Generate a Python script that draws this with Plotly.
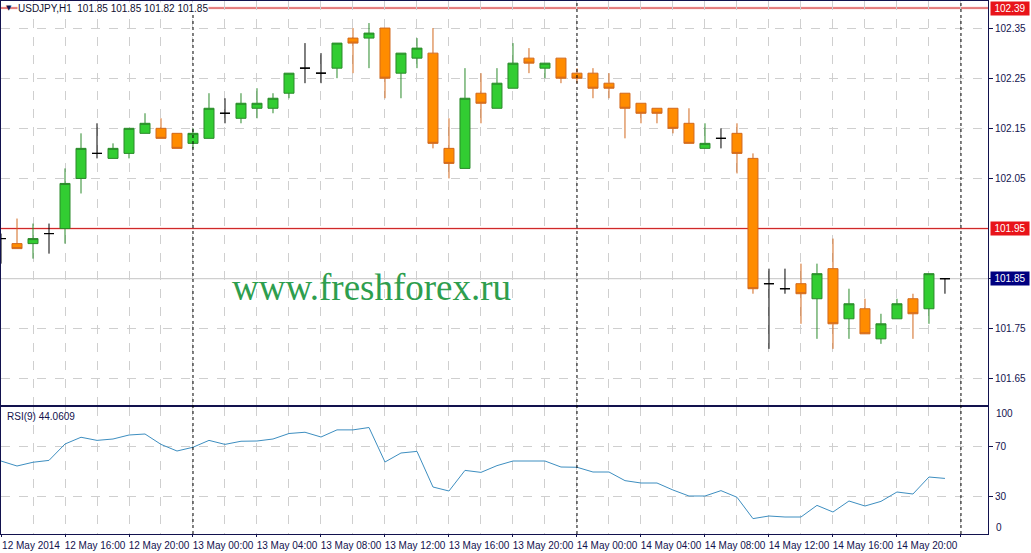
import plotly.graph_objects as go
import pandas as pd
import numpy as np

# ---------------- data ----------------
symbol = "USDJPY,H1"
start_time = "2014-05-12 12:00"

opens = [101.93, 101.92, 101.92, 101.94, 101.95, 102.05, 102.10, 102.09, 102.10, 102.14,
         102.15, 102.14, 102.12, 102.13, 102.18, 102.17, 102.19, 102.19, 102.22, 102.27,
         102.26, 102.27, 102.33, 102.33, 102.35, 102.26, 102.29, 102.30, 102.11, 102.07,
         102.22, 102.19, 102.23, 102.29, 102.27, 102.29, 102.26, 102.26, 102.24, 102.22,
         102.20, 102.19, 102.19, 102.16, 102.11, 102.13, 102.14, 102.09, 101.84, 101.83,
         101.84, 101.81, 101.87, 101.77, 101.79, 101.73, 101.77, 101.81, 101.79, 101.85]
highs = [101.94, 101.97, 101.96, 101.96, 102.07, 102.14, 102.16, 102.12, 102.15, 102.18,
         102.17, 102.14, 102.15, 102.22, 102.21, 102.22, 102.23, 102.22, 102.26, 102.32,
         102.30, 102.32, 102.35, 102.36, 102.35, 102.30, 102.33, 102.35, 102.17, 102.27,
         102.26, 102.27, 102.32, 102.31, 102.28, 102.29, 102.27, 102.27, 102.26, 102.22,
         102.20, 102.19, 102.19, 102.19, 102.16, 102.15, 102.16, 102.10, 101.87, 101.87,
         101.88, 101.88, 101.93, 101.83, 101.81, 101.78, 101.81, 101.82, 101.86, 101.85]
lows = [101.88, 101.91, 101.89, 101.90, 101.92, 102.02, 102.09, 102.09, 102.09, 102.14,
        102.13, 102.11, 102.11, 102.13, 102.16, 102.16, 102.17, 102.18, 102.21, 102.24,
        102.24, 102.25, 102.26, 102.27, 102.21, 102.21, 102.27, 102.11, 102.05, 102.07,
        102.16, 102.19, 102.23, 102.26, 102.25, 102.24, 102.24, 102.21, 102.21, 102.13,
        102.16, 102.16, 102.14, 102.12, 102.11, 102.11, 102.06, 101.82, 101.71, 101.82,
        101.76, 101.73, 101.71, 101.73, 101.74, 101.72, 101.77, 101.73, 101.76, 101.82]
closes = [101.93, 101.91, 101.93, 101.94, 102.04, 102.11, 102.10, 102.11, 102.15, 102.16,
          102.13, 102.11, 102.14, 102.19, 102.18, 102.20, 102.20, 102.21, 102.26, 102.27,
          102.26, 102.32, 102.32, 102.34, 102.25, 102.30, 102.31, 102.12, 102.08, 102.21,
          102.20, 102.24, 102.28, 102.28, 102.28, 102.25, 102.25, 102.23, 102.23, 102.19,
          102.18, 102.18, 102.15, 102.12, 102.12, 102.13, 102.10, 101.83, 101.84, 101.83,
          101.82, 101.86, 101.76, 101.80, 101.74, 101.76, 101.80, 101.78, 101.86, 101.85]

rsi_period = 9
rsi = [58, 54, 57, 58.5, 71.6, 77, 74.5, 75.6, 78.8, 79.6,
       71.3, 66, 69, 74.5, 71.3, 73.8, 74, 75.6, 80, 81,
       77.2, 82.9, 82.9, 84.8, 57.2, 64.4, 65.7, 37.2, 34, 50.5,
       48.9, 54.3, 58, 58, 58, 53.2, 53, 49.2, 49.2, 42.3,
       40.4, 40.4, 34.8, 30, 30, 34.3, 29, 11.9, 14, 13.2,
       13.2, 22.5, 17.2, 26, 22, 25.7, 33.2, 31.6, 45.2, 44.0609]

level_lines = [102.39, 101.95]
price_ticks = [101.65, 101.75, 101.85, 101.95, 102.05, 102.15, 102.25, 102.35]
rsi_grid_ticks = [30, 70]
rsi_edge_labels = {"100": 95.6, "0": 5.2}
watermark = "www.freshforex.ru"

# ---------------- styling ----------------
FONT = "Liberation Sans, Arial, sans-serif"
NAVY = "#12124e"
GRID = "#cfcfcf"
BULL_FILL, BULL_LINE = "#32cd32", "#2a8a2a"
BEAR_FILL, BEAR_LINE = "#ff8c00", "#d2691e"
RED = "#cc2020"

n = len(opens)
idx = np.arange(n)
times = pd.date_range(start_time, periods=n, freq="h")
hours = np.array([t.hour for t in times])

o = np.array(opens); h = np.array(highs); l = np.array(lows); c = np.array(closes)
bull = c > o
bear = c < o
doji = c == o

fig = go.Figure()


def candles(mask, line_col, fill_col):
    return go.Candlestick(
        x=idx[mask], open=o[mask], high=h[mask], low=l[mask], close=c[mask],
        increasing=dict(line=dict(color=line_col, width=1), fillcolor=fill_col),
        decreasing=dict(line=dict(color=line_col, width=1), fillcolor=fill_col),
        whiskerwidth=0, showlegend=False, hoverinfo="skip",
        xaxis="x", yaxis="y")


fig.add_trace(candles(bull, BULL_LINE, BULL_FILL))
fig.add_trace(candles(bear, BEAR_LINE, BEAR_FILL))
fig.add_trace(candles(doji, "#000000", "#000000"))

fig.add_trace(go.Scatter(x=idx, y=rsi, mode="lines",
                         line=dict(color="#3d8ec0", width=1),
                         showlegend=False, hoverinfo="skip",
                         xaxis="x2", yaxis="y2"))

# x ticks: labels every 4 hours, grid every 2 hours
ext = np.arange(n + 2)
ext_hours = (hours[0] + ext) % 24
major = [int(k) for k in ext if ext_hours[k] % 4 == 0]
minor = [int(k) for k in ext if ext_hours[k] % 4 == 2]
labels = []
for k in major:
    if k < n:
        t = times[k]
        labels.append(t.strftime("%d %b %Y") if k == 0 else t.strftime("%d %b %H:%M"))
    else:
        labels.append("")
separators = [int(k) for k in ext if ext_hours[k] == 0]

# price gridlines (the level lines replace the grid at their own price)
grid_prices = [v for v in price_ticks if all(abs(v - lv) > 1e-9 for lv in level_lines)]

xrange_ = [-0.0001, 61.69]
grid_common = dict(showgrid=True, gridcolor=GRID, griddash="dash", gridwidth=1)

xcommon = dict(range=xrange_, tickmode="array", tickvals=major,
               minor=dict(tickmode="array", tickvals=minor, showgrid=True,
                          gridcolor=GRID, griddash="dash", gridwidth=1, ticks=""),
               showline=True, mirror=True, linecolor=NAVY, linewidth=1,
               zeroline=False, rangeslider=dict(visible=False), **grid_common)

main_bottom = (534 - 405) / 533
rsi_top = (534 - 407) / 533

fig.update_layout(
    width=1031, height=553, autosize=False,
    margin=dict(l=1, r=43, t=1, b=19, pad=0),
    paper_bgcolor="white", plot_bgcolor="white",
    font=dict(family=FONT, size=10, color=NAVY),
    boxgap=0.375, boxgroupgap=0,
    xaxis=dict(domain=[0, 1], anchor="y", showticklabels=False, ticks="", **xcommon),
    xaxis2=dict(domain=[0, 1], anchor="y2", matches="x", ticktext=labels,
                ticks="outside", ticklen=2, tickcolor=NAVY, ticklabelshift=30,
                tickfont=dict(family=FONT, size=10, color=NAVY), **xcommon),
    yaxis=dict(domain=[main_bottom, 1], range=[101.598, 102.404], side="right",
               tickmode="array", tickvals=grid_prices,
               ticktext=[f"{v:.2f}" for v in grid_prices],
               ticks="outside", ticklen=4, tickcolor=NAVY,
               showline=True, mirror=True, linecolor=NAVY, zeroline=False,
               tickfont=dict(family=FONT, size=10, color=NAVY), **grid_common),
    yaxis2=dict(domain=[0, rsi_top], range=[-0.4, 101.2], side="right",
                tickmode="array", tickvals=rsi_grid_ticks,
                ticktext=[str(v) for v in rsi_grid_ticks],
                ticks="outside", ticklen=4, tickcolor=NAVY,
                showline=True, mirror=True, linecolor=NAVY, zeroline=False,
                tickfont=dict(family=FONT, size=10, color=NAVY), **grid_common),
)

shapes = []
# bid line at last close
shapes.append(dict(type="line", xref="paper", yref="y", x0=0, x1=1,
                   y0=closes[-1], y1=closes[-1], layer="below",
                   line=dict(color="#c4c4c4", width=1)))
for lv in level_lines:
    shapes.append(dict(type="line", xref="paper", yref="y", x0=0, x1=1, y0=lv, y1=lv,
                       layer="below", line=dict(color="rgba(255,170,170,0.35)", width=3)))
    shapes.append(dict(type="line", xref="paper", yref="y", x0=0, x1=1, y0=lv, y1=lv,
                       layer="below", line=dict(color=RED, width=1)))
for s in separators:
    shapes.append(dict(type="line", xref="x", yref="paper", x0=s, x1=s, y0=0, y1=1,
                       layer="above", line=dict(color="#000000", width=1, dash="dot")))
fig.update_layout(shapes=shapes)

ann = []
# title
ann.append(dict(xref="paper", yref="y", x=16 / 987, y=level_lines[0], xanchor="left",
                yanchor="middle", showarrow=False, bgcolor="white", borderpad=0,
                text=f"{symbol}  {opens[-1]:.2f} {highs[-1]:.2f} {lows[-1]:.2f} {closes[-1]:.2f}",
                font=dict(family=FONT, size=10, color="#101030")))
ann.append(dict(xref="paper", yref="y", x=8 / 987, y=level_lines[0], xanchor="center",
                yanchor="middle", showarrow=False, text="▼",
                font=dict(family="DejaVu Sans", size=7, color=NAVY)))
# price boxes
for lv in level_lines:
    ann.append(dict(xref="paper", yref="y", x=1.002, y=lv, xanchor="left", yanchor="middle",
                    showarrow=False, text=f"{lv:.2f}", bgcolor="#e8141a", borderpad=1,
                    width=36, font=dict(family=FONT, size=10, color="white")))
ann.append(dict(xref="paper", yref="y", x=1.002, y=closes[-1], xanchor="left", yanchor="middle",
                showarrow=False, text=f"{closes[-1]:.2f}", bgcolor="#000080", borderpad=1,
                width=36, font=dict(family=FONT, size=10, color="white")))
# RSI edge labels
for txt, val in rsi_edge_labels.items():
    ann.append(dict(xref="paper", yref="y2", x=1.006, y=val, xanchor="left", yanchor="middle",
                    showarrow=False, text=txt, font=dict(family=FONT, size=10, color=NAVY)))
# RSI label
ann.append(dict(xref="paper", yref="paper", x=4 / 987, y=(534 - 416) / 533, xanchor="left",
                yanchor="middle", showarrow=False, text=f"RSI({rsi_period}) {rsi[-1]:.4f}",
                font=dict(family=FONT, size=10, color=NAVY)))
# watermark
ann.append(dict(xref="paper", yref="paper", x=(371 - 1) / 987, y=(534 - 287) / 533,
                xanchor="center", yanchor="middle", showarrow=False, text=watermark,
                font=dict(family="Liberation Serif, Times New Roman, serif", size=37,
                          color="#2e9e4e")))
fig.update_layout(annotations=ann)

fig.write_html("out.html", config={"displayModeBar": False},
               post_script="document.body.style.margin='0';")
